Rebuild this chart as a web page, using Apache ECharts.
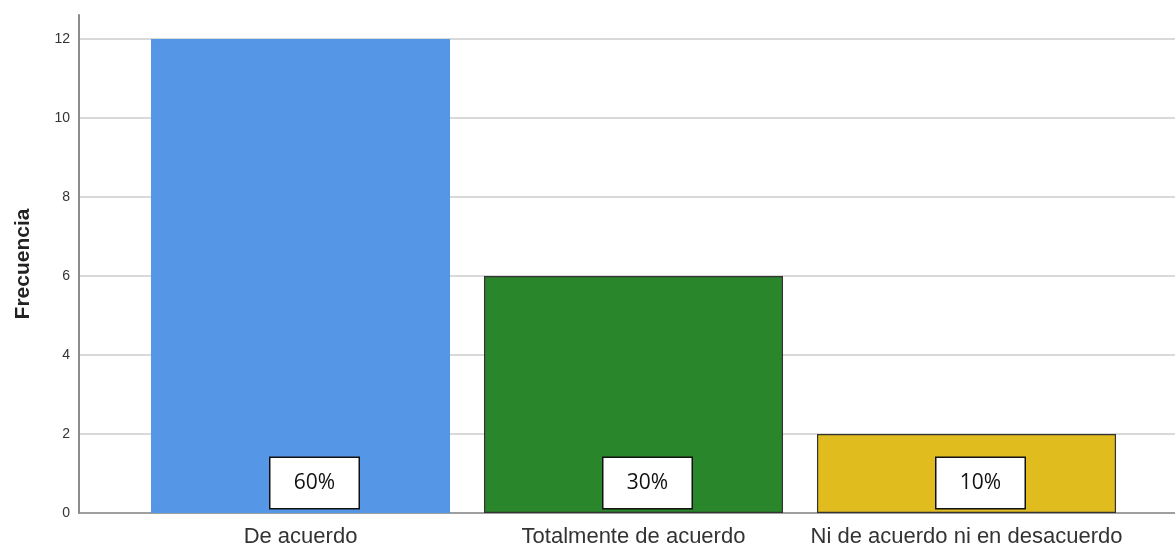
<!DOCTYPE html>
<html>
<head>
<meta charset="utf-8">
<title>Frecuencia</title>
<script src="https://cdn.jsdelivr.net/npm/echarts@6/dist/echarts.min.js"></script>
<style>
	* { margin: 0; padding: 0; }
	#main { width: 1175px; height: 544px; background: #fff; }
</style>
</head>
<body>
<div id="main"></div>
<script>
	let categories = ['De acuerdo', 'Totalmente de acuerdo', 'Ni de acuerdo ni en desacuerdo'];
	let frecuencia = [12, 6, 2];
	let porcentajes = ['60%', '30%', '10%'];
	let barColors = ['#5596E6', '#2A862A', '#E1BC1F'];
	let barBorders = ['#5596E6', '#333333', '#333333'];

	let myChart = echarts.init(document.getElementById('main'));

	let option = {
		backgroundColor: '#ffffff',
		animation: false,
		grid: [
			// fondo: linea de eje y lineas de cuadricula
			{ left: 79, right: 0, top: 15, bottom: 31, outerBoundsMode: 'none' },
			// barras
			{ left: 134, right: 42, top: 39, bottom: 31, outerBoundsMode: 'none' }
		],
		xAxis: [{
			gridIndex: 0,
			type: 'value',
			min: 0,
			max: 1,
			axisLine: { show: true, lineStyle: { color: '#8c8c8c', width: 1.5 } },
			axisTick: { show: false },
			axisLabel: { show: false },
			splitLine: { show: false }
		}, {
			gridIndex: 1,
			type: 'category',
			data: categories,
			axisLine: { show: false },
			axisTick: { show: false },
			axisLabel: {
				color: '#333333',
				fontSize: 22,
				fontFamily: 'Liberation Sans',
				margin: 13,
				interval: 0
			}
		}],
		yAxis: [{
			gridIndex: 0,
			type: 'value',
			min: 0,
			max: 12.61,
			interval: 2,
			name: 'Frecuencia',
			nameLocation: 'middle',
			nameGap: 45,
			nameTextStyle: {
				color: '#222222',
				fontSize: 21,
				fontWeight: 'bold',
				fontFamily: 'Liberation Sans'
			},
			axisLine: { show: true, lineStyle: { color: '#8c8c8c', width: 2 } },
			axisTick: { show: false },
			axisLabel: {
				color: '#333333',
				fontSize: 14,
				fontFamily: 'Liberation Sans',
				margin: 9,
				showMaxLabel: false
			},
			splitLine: {
				show: true,
				showMaxLine: false,
				lineStyle: { color: '#cccccc', width: 1.5 }
			}
		}, {
			gridIndex: 1,
			type: 'value',
			min: 0,
			max: 12,
			interval: 2,
			show: false,
			splitLine: { show: false }
		}],
		series: [{
			type: 'bar',
			xAxisIndex: 1,
			yAxisIndex: 1,
			barWidth: '89.8%',
			data: frecuencia.map(function (v, i) {
				return {
					value: v,
					itemStyle: {
						color: barColors[i],
						borderColor: barBorders[i],
						borderWidth: 1.2
					}
				};
			}),
			label: {
				show: true,
				position: 'insideBottom',
				offset: [14, -25],
				formatter: function (p) { return porcentajes[p.dataIndex]; },
				color: '#111111',
				fontSize: 21,
				fontFamily: 'Open Sans',
				backgroundColor: '#ffffff',
				borderColor: '#111111',
				borderWidth: 1.5,
				width: 88,
				height: 50,
				lineHeight: 50,
				align: 'center',
				verticalAlign: 'middle'
			}
		}]
	};
	myChart.setOption(option);
</script>
</body>
</html>
